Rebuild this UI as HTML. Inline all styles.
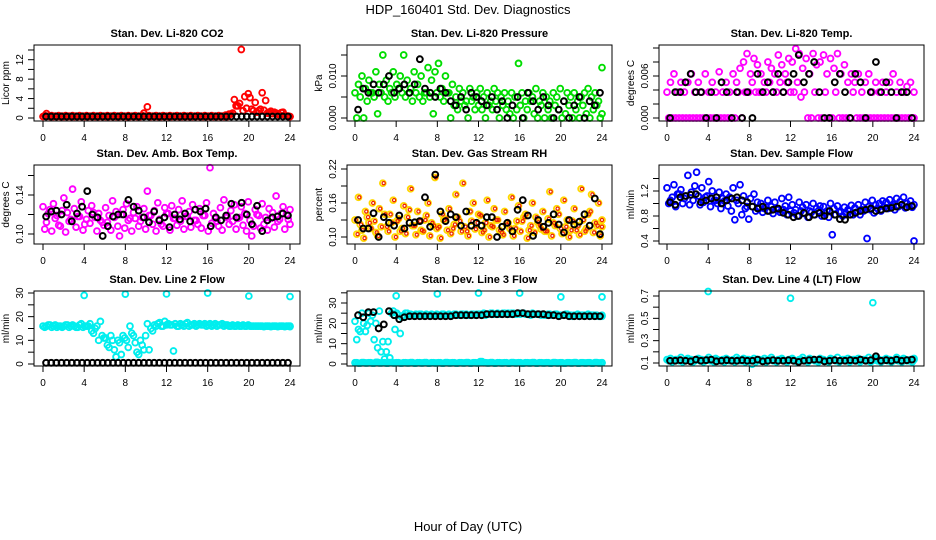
<!DOCTYPE html>
<html><head><meta charset="utf-8">
<style>
body{margin:0;background:#fff;}
svg{display:block;font-family:"Liberation Sans",sans-serif;}
</style></head>
<body>
<svg id="chart" width="936" height="540" viewBox="0 0 936 540" xmlns="http://www.w3.org/2000/svg">
<rect width="936" height="540" fill="#fff"/>
<text x="468" y="14" font-size="13" text-anchor="middle">HDP_160401  Std. Dev. Diagnostics</text>
<text x="468" y="531" font-size="13" text-anchor="middle">Hour of Day (UTC)</text>
<g id="panels"></g>
</svg>
<script>
// ---- data (hour-of-day series; colored = 20-min records, black = 30-min records) ----
const hourTicks = [0,4,8,12,16,20,24];

const co2A = [0.3,0.9,0.3,0.3,0.3,0.3,0.3,0.3,0.3, 0.3,0.3,0.3,0.3,0.3,0.3,0.3,0.3,0.3, 0.3,0.3,0.3,0.3,0.3,0.3,0.3,0.3,0.3, 0.3,0.3,1.0,2.3,0.3,0.3,0.3,0.3,0.3, 0.3,0.3,0.3,0.3,0.3,0.3,0.3,0.3,0.3, 0.3,0.3,0.3,0.3,0.3,0.3,0.3,0.3,0.3, 0.8,3.8,2.5,14.1,4.4,5.0,1.8,3.2,1.5, 5.2,3.6,1.2,0.9,1.0,0.6,1.2,0.4,0.3];
const co2B = [0.5,0.4,0.5,0.4,0.5,0.4,0.5,0.4,0.5, 0.4,0.5,0.4,0.5,0.4,0.5,0.4,0.5,0.4, 0.5,0.4,0.5,0.4,0.5,0.4,0.5,0.4,0.5, 0.4,0.5,0.4,0.5,0.4,0.5,0.4,0.5,0.4, 0.5,0.4,0.5,0.4,0.5,0.4,0.5,0.4,0.5, 0.4,0.5,0.4,0.5,0.4,0.5,0.4,0.6,0.8, 1.0,2.5,3.0,1.5,2.0,4.2,1.5,1.2,1.8, 1.6,1.0,1.4,1.2,0.8,1.1,0.6,0.4,0.3];
const co2K = [0.3,0.3,0.3,0.3,0.3,0.3,0.3,0.3,0.3,0.3,0.3,0.3,0.3,0.3,0.3,0.3,0.3,0.3,0.3,0.3,0.3,0.3,0.3,0.3,0.3,0.3,0.3,0.3,0.3,0.3,0.3,0.3,0.3,0.3,0.3,0.3,0.3,0.3,0.3,0.3,0.3,0.3,0.3,0.3,0.3,0.3,0.3,0.3];

const presA = [0.006,0.008,0.010,0.007,0.009,0.006,0.011,0.008,0.015, 0.009,0.007,0.011,0.008,0.010,0.015,0.009,0.007,0.011, 0.008,0.010,0.006,0.012,0.009,0.011,0.013,0.007,0.010, 0.006,0.008,0.005,0.007,0.006,0.004,0.007,0.005,0.006, 0.007,0.005,0.006,0.004,0.007,0.006,0.005,0.006,0.004, 0.006,0.005,0.013,0.006,0.004,0.006,0.005,0.007,0.004, 0.006,0.005,0.004,0.006,0.005,0.007,0.004,0.006,0.005, 0.006,0.004,0.005,0.006,0.007,0.005,0.006,0.004,0.012];
const presB = [0.000,0.005,0.000,0.004,0.006,0.005,0.001,0.006,0.005, 0.004,0.006,0.005,0.007,0.006,0.005,0.006,0.004,0.006, 0.005,0.004,0.006,0.005,0.001,0.006,0.005,0.004,0.006, 0.000,0.003,0.002,0.004,0.003,0.000,0.004,0.002,0.003, 0.002,0.000,0.003,0.002,0.004,0.000,0.003,0.002,0.001, 0.000,0.002,0.003,0.000,0.002,0.004,0.001,0.000,0.003, 0.000,0.002,0.000,0.003,0.002,0.000,0.001,0.003,0.000, 0.002,0.000,0.003,0.001,0.000,0.002,0.003,0.000,0.001];
const presK = [0.002,0.007,0.006,0.008,0.006,0.008,0.010,0.006,0.007,0.008,0.006,0.008,0.014,0.007,0.006,0.005,0.007,0.006,0.004,0.003,0.005,0.002,0.006,0.005,0.004,0.003,0.005,0.002,0.004,0.000,0.003,0.005,0.000,0.006,0.004,0.002,0.005,0.003,0.000,0.002,0.004,0.000,0.003,0.005,0.000,0.004,0.003,0.006];

const tempA = [0.0037,0.0051,0.0063,0.0037,0.0051,0.0037,0.0051,0.0063,0.0037, 0.0051,0.0037,0.0063,0.0037,0.0051,0.0037,0.0066,0.0037,0.0051, 0.0037,0.0063,0.0051,0.0071,0.0080,0.0092,0.0063,0.0085,0.0076, 0.0063,0.0051,0.0080,0.0071,0.0063,0.0090,0.0076,0.0063,0.0085, 0.0080,0.0099,0.0092,0.0071,0.0085,0.0063,0.0092,0.0076,0.0080, 0.0090,0.0063,0.0085,0.0071,0.0092,0.0063,0.0076,0.0051,0.0063, 0.0051,0.0063,0.0037,0.0051,0.0063,0.0037,0.0051,0.0037,0.0051, 0.0037,0.0051,0.0063,0.0037,0.0051,0.0037,0.0045,0.0051,0.0037];
const tempB = [0,0,0,0,0,0,0,0,0, 0,0,0,0,0,0,0,0,0, 0,0,0.0037,0,0.0037,0.0037,0.0051,0.0037,0.0037, 0.0037,0.0037,0.0051,0.0037,0.0037,0.0051,0.0037,0.0051,0.0037, 0.0037,0.0051,0.0030,0.0037,0,0,0.0037,0,0, 0.0037,0,0,0.0037,0,0,0,0,0.0037, 0,0,0,0,0,0,0,0,0, 0,0,0,0,0,0,0,0,0];
const tempK = [0,0.0037,0.0037,0.0051,0.0063,0.0037,0.0037,0,0.0037,0,0.0051,0.0037,0,0.0037,0,0.0037,0,0.0063,0.0037,0.0051,0.0037,0.0063,0.0037,0.0051,0.0063,0.0090,0.0051,0.0063,0.0080,0.0037,0,0,0.0051,0.0063,0.0037,0,0.0063,0.0051,0,0.0037,0.0080,0.0037,0.0051,0.0037,0,0.0037,0.0037,0];

const ambA = [.128,.112,.125,.131,.119,.108,.137,.122,.115, .126,.118,.133,.110,.124,.129,.117,.121,.112, .127,.119,.134,.123,.098,.125,.131,.116,.122, .128,.113,.126,.144,.119,.124,.132,.110,.127, .121,.129,.116,.125,.134,.118,.123,.130,.114, .126,.119,.132,.168,.121,.113,.127,.135,.118, .124,.130,.116,.128,.121,.133,.098,.125,.119, .131,.117,.126,.122,.139,.115,.128,.120,.125];
const ambB = [.105,.121,.103,.116,.109,.124,.102,.113,.146, .107,.118,.104,.115,.111,.122,.103,.114,.109, .112,.104,.117,.108,.120,.106,.114,.103,.116, .108,.117,.105,.119,.110,.103,.115,.108,.121, .104,.116,.109,.113,.105,.118,.107,.114,.110, .106,.119,.103,.111,.116,.108,.104,.117,.110, .113,.105,.117,.109,.103,.114,.108,.120,.106, .110,.104,.116,.107,.113,.121,.105,.115,.110];
const ambK = [.118,.123,.124,.120,.130,.113,.121,.128,.144,.120,.117,.098,.108,.118,.120,.120,.135,.128,.124,.117,.112,.123,.114,.117,.107,.120,.115,.121,.113,.125,.123,.126,.108,.117,.114,.119,.131,.117,.132,.120,.110,.129,.103,.114,.117,.118,.121,.119];

const rhA = [.130,.170,.112,.145,.125,.160,.108,.150,.195, .118,.140,.165,.128,.110,.155,.135,.185,.120, .145,.112,.130,.160,.125,.205,.118,.140,.132, .150,.115,.175,.128,.195,.110,.145,.160,.125, .138,.112,.165,.120,.150,.130,.108,.145,.125, .170,.115,.155,.128,.140,.112,.160,.135,.120, .145,.110,.180,.125,.150,.115,.165,.130,.112, .150,.120,.185,.110,.140,.175,.125,.160,.130];
const rhB = [.105,.122,.098,.135,.115,.128,.102,.118,.140, .110,.125,.100,.132,.115,.106,.148,.120,.104, .128,.110,.138,.102,.120,.115,.098,.130,.112, .106,.122,.135,.110,.118,.102,.128,.114,.140, .108,.125,.100,.118,.130,.112,.104,.122,.115, .102,.128,.110,.135,.098,.120,.108,.126,.114, .110,.132,.102,.120,.140,.106,.118,.100,.128, .112,.104,.130,.115,.145,.108,.120,.102,.118];
const rhK = [.130,.115,.115,.142,.100,.135,.125,.120,.138,.115,.125,.126,.128,.170,.118,.210,.145,.128,.140,.135,.120,.145,.120,.125,.120,.135,.135,.100,.118,.125,.110,.148,.165,.138,.102,.130,.118,.125,.140,.122,.108,.130,.122,.127,.140,.120,.168,.105];

const flowA = [1.25,1.05,1.30,1.15,1.22,1.08,1.45,1.18,1.28, 1.12,1.25,1.10,1.35,1.20,1.05,1.18,1.08,1.15, 1.10,1.25,1.05,1.30,1.12,0.95,1.08,1.15,1.02, 1.00,0.92,1.05,0.95,1.02,0.90,1.08,0.96,1.10, 0.98,0.90,1.02,0.94,0.98,0.88,1.00,0.92,0.96, 0.95,0.88,1.00,0.92,0.96,0.87,0.94,0.90,0.97, 0.93,0.98,0.90,1.02,0.95,1.05,0.98,1.00,1.04, 1.02,1.06,0.98,1.08,1.03,1.10,1.00,1.04,0.98];
const flowB = [1.00,1.10,0.95,1.15,1.00,1.12,0.98,1.05,1.50, 0.98,1.02,1.12,0.95,1.05,1.00,0.92,1.04,0.96, 0.88,0.74,1.00,0.82,0.92,0.75,0.95,0.88,0.92, 0.86,0.94,0.88,0.84,0.92,0.86,0.90,0.82,0.88, 0.85,0.80,0.88,0.84,0.78,0.86,0.82,0.88,0.80, 0.84,0.78,0.50,0.82,0.86,0.80,0.84,0.88,0.82, 0.86,0.82,0.88,0.44,0.90,0.85,0.92,0.88,0.94, 0.92,0.96,0.90,0.95,0.98,0.93,0.96,0.94,0.40];
const flowK = [1.02,0.98,1.10,1.12,1.14,1.15,1.02,1.05,1.08,1.10,1.00,1.05,1.08,1.10,1.05,1.02,0.95,0.92,0.95,0.88,0.90,0.92,0.85,0.82,0.78,0.80,0.85,0.78,0.82,0.85,0.80,0.88,0.82,0.75,0.74,0.82,0.85,0.88,0.90,0.92,0.88,0.90,0.92,0.93,0.95,0.98,0.94,0.96];

const l2A = [16,16,16.5,16,15.5,16,16,16.5,16, 16,15.5,17,16,16,14,15,10,12, 11,7,10,3,9,12,10,16,12, 5,10,6,17,15,16.5,17,16,18, 17,16.5,17,16,16.5,17,16,16.5,16, 17,16.5,16,17,16.5,16,16.5,16,16.5, 16,16,16.5,16,16,16.5,16,16,16, 16,16,16,16,16,16,16,16,16];
const l2B = [15.5,16.5,15.5,16.5,16,15.5,16.5,15.5,16.5, 15.5,16.5,15.5,16,17,13,16,18,11, 8,12,6,10,4,11,7,13,9, 4,8,12,6,14,16,17.5,16,16.5, 16.5,5.5,16,17,16,17.5,16.5,17,16.5, 16.5,17,16.5,16,17,16.5,17,16.5,16, 16.5,16,16,16.5,16,16,16,16,16, 15.8,16,15.8,16,15.8,16,15.8,16,15.8];
const l2K = [0.5,0.5,0.5,0.5,0.5,0.5,0.5,0.5,0.5,0.5,0.5,0.5,0.5,0.5,0.5,0.5,0.5,0.5,0.5,0.5,0.5,0.5,0.5,0.5,0.5,0.5,0.5,0.5,0.5,0.5,0.5,0.5,0.5,0.5,0.5,0.5,0.5,0.5,0.5,0.5,0.5,0.5,0.5,0.5,0.5,0.5,0.5,0.5];
const outHours = [4,8,12,16,20,24];
const l2Out = [29,29.5,29.6,30,28.7,28.5];

const l3A = [21,17,25,16,25,24,20,26,11, 6,3,26,25,15,24,25,24.5,24, 24,24.5,24,24,24.5,24,24,24.5,24, 24.5,24,24.5,24,24.5,24.5,24,24.5,24.5, 24.5,25,24.5,25,24.5,25,24.5,25,25, 25,24.5,25,25,24.5,24.5,25,24.5,24.5, 24.5,24,24.5,24,24.5,24,24,24.5,24, 24,24.5,24,24,24.5,24,24,23.5,24];
const l3B = [12,16,20,19,21,12,8,6,2.5, 11,25,17,24,23,25,24,24,24.5, 24.5,24,24.5,24,24,24.5,24,24.5,24, 24,24.5,24,24.5,24,24,24.5,24,24.5, 24.5,24,24.5,25,24.5,24.5,25,24.5,24.5, 25,24.5,24.5,25,24.5,24,24.5,24.5,24, 24,24.5,24,24.5,24,24,24.5,24,23.5, 24,23.5,24,24,23.5,24,24,23.5,23.5];
const l3Zero = [0.6,0.4,0.7,0.5,0.6,0.4,0.8,0.5,0.6, 0.4,0.7,0.5,0.6,0.4,0.6,0.5,0.7,0.4, 0.6,0.5,0.7,0.4,0.6,0.5,0.6,0.4,0.7, 0.5,0.6,0.4,0.6,0.5,0.7,0.4,0.6,0.5, 1.2,0.6,0.5,0.7,0.4,0.6,0.5,0.6,0.4, 0.7,0.5,0.6,0.4,0.6,0.5,0.7,0.4,0.6, 0.5,0.6,0.4,0.7,0.5,0.6,0.4,0.6,0.5, 0.7,0.4,0.6,0.5,0.6,0.4,0.7,0.5,0.6];
const l3K = [24,23,25.5,25.5,17.5,19.5,26,24,22,23,23.5,23.5,23.5,23.5,23.5,23.5,23.5,23.5,23.5,24,24,24,24,24,24,24.5,24.5,24.5,24.5,24.5,24.5,25,25,24.5,24.5,24.5,24.5,24,24,23.5,24,23.5,23.5,23.5,23.5,23.5,23.5,23.5];
const l3Out = [33.5,34.5,34.9,34.9,33,33];

const l4A = [.13,.14,.12,.13,.15,.12,.14,.13,.12, .14,.13,.12,.15,.13,.14,.12,.13,.14, .12,.13,.15,.12,.14,.13,.12,.14,.13, .12,.14,.13,.15,.12,.13,.14,.12,.13, .14,.12,.13,.15,.12,.14,.13,.12,.14, .13,.12,.14,.13,.15,.12,.13,.14,.12, .13,.14,.12,.13,.15,.12,.14,.13,.12, .14,.13,.12,.15,.13,.14,.12,.13,.14];
const l4B = [.12,.11,.13,.12,.11,.13,.12,.11,.13, .12,.11,.13,.12,.11,.13,.12,.11,.13, .12,.11,.13,.12,.11,.13,.09,.11,.13, .12,.11,.13,.12,.11,.13,.12,.11,.13, .12,.11,.13,.12,.11,.13,.12,.11,.13, .12,.11,.13,.12,.11,.13,.12,.11,.13, .12,.11,.13,.12,.11,.13,.12,.11,.13, .12,.11,.13,.12,.11,.13,.12,.11,.13];
const l4K = [.12,.12,.125,.12,.115,.13,.12,.125,.13,.115,.12,.125,.12,.12,.125,.12,.12,.13,.115,.12,.125,.12,.12,.125,.12,.11,.12,.125,.13,.13,.115,.12,.125,.12,.12,.125,.12,.13,.12,.125,.16,.12,.125,.12,.13,.12,.125,.13];
const l4Out = [0.74,null,0.68,null,0.64,null];

// ---- layout ----
const cols=[{L:34,R:300,x0:43,x1:290},{L:347,R:612,x0:355,x1:602},{L:659,R:924,x0:667,x1:914}];
const rows=[{T:45,B:121},{T:165,B:244},{T:291,B:366}];
const NS="http://www.w3.org/2000/svg";
const root=document.getElementById('panels');
function mk(tag,attrs,parent){const e=document.createElementNS(NS,tag);for(const k in attrs)e.setAttribute(k,attrs[k]);(parent||root).appendChild(e);return e;}

const panels=[
 {title:"Stan. Dev. Li-820 CO2",yl:"Licor ppm",r:0,c:0,v:[0,12],y:[118,59.7],ticks:[0,2,4,6,8,10,12,14],labs:[0,4,8,12],fmt:v=>String(v),
  series:[[co2A,'#ff0000',0],[co2B,'#ff0000',0.17]],black:co2K},
 {title:"Stan. Dev. Li-820 Pressure",yl:"kPa",r:0,c:1,v:[0,0.010],y:[118,76],ticks:[0,0.005,0.010,0.015],labs:[0,0.010],fmt:v=>v.toFixed(3),
  series:[[presA,'#00dd00',0],[presB,'#00dd00',0.17]],black:presK},
 {title:"Stan. Dev. Li-820 Temp.",yl:"degrees C",r:0,c:2,v:[0,0.006],y:[118,76],ticks:[0,0.002,0.004,0.006,0.008,0.010],labs:[0,0.006],fmt:v=>v.toFixed(3),
  series:[[tempA,'#ff00ff',0],[tempB,'#ff00ff',0.17]],black:tempK},
 {title:"Stan. Dev. Amb. Box Temp.",yl:"degrees C",r:1,c:0,v:[0.10,0.14],y:[234,195],ticks:[0.10,0.12,0.14,0.16],labs:[0.10,0.14],fmt:v=>v.toFixed(2),
  series:[[ambA,'#ff00ff',0],[ambB,'#ff00ff',0.17]],black:ambK},
 {title:"Stan. Dev. Gas Stream RH",yl:"percent",r:1,c:1,v:[0.10,0.22],y:[237,169],ticks:[0.10,0.13,0.16,0.19,0.22],labs:[0.10,0.16,0.22],fmt:v=>v.toFixed(2),
  series:[[rhA,'#ffd700',0],[rhB,'#ffd700',0.17],[rhA,'#ee2200',0.08,1],[rhB,'#ee2200',0.25,1]],black:rhK},
 {title:"Stan. Dev. Sample Flow",yl:"ml/min",r:1,c:2,v:[0.4,1.2],y:[241,191],ticks:[0.4,0.6,0.8,1.0,1.2,1.4],labs:[0.4,0.8,1.2],fmt:v=>v.toFixed(1),
  series:[[flowA,'#0000ff',0],[flowB,'#0000ff',0.17]],black:flowK},
 {title:"Stan. Dev. Line 2 Flow",yl:"ml/min",r:2,c:0,v:[0,30],y:[364,293],ticks:[0,5,10,15,20,25,30],labs:[0,10,20,30],fmt:v=>String(v),
  series:[[l2A,'#00eeee',0],[l2B,'#00eeee',0.17]],black:l2K,out:l2Out},
 {title:"Stan. Dev. Line 3 Flow",yl:"ml/min",r:2,c:1,v:[0,30],y:[364,303],ticks:[0,5,10,15,20,25,30,35],labs:[0,10,20,30],fmt:v=>String(v),
  series:[[l3Zero,'#00eeee',0],[l3Zero,'#00eeee',0.17],[l3A,'#00eeee',0],[l3B,'#00eeee',0.17]],black:l3K,out:l3Out},
 {title:"Stan. Dev. Line 4 (LT) Flow",yl:"ml/min",r:2,c:2,v:[0.1,0.7],y:[363,296],ticks:[0.1,0.2,0.3,0.4,0.5,0.6,0.7],labs:[0.1,0.3,0.5,0.7],fmt:v=>v.toFixed(1),
  series:[[l4A,'#00eeee',0],[l4B,'#00eeee',0.17]],black:l4K,out:l4Out}
];

panels.forEach((p,pi)=>{
  const C=cols[p.c],R=rows[p.r];
  const xs=h=>C.x0+(C.x1-C.x0)*h/24;
  const ys=v=>p.y[0]+(v-p.v[0])*(p.y[1]-p.y[0])/(p.v[1]-p.v[0]);
  const g=mk('g',{});
  
  
  const t=mk('text',{x:(C.L+C.R)/2,y:R.T-8,'font-size':11,'font-weight':'bold','text-anchor':'middle'},g);
  t.textContent=p.title;
  
  
  hourTicks.forEach(h=>{
    const tk=mk('line',{x1:xs(h),x2:xs(h),y1:R.B,y2:R.B+6,stroke:'#000','stroke-width':1},g);
    
    
    const tl=mk('text',{x:xs(h),y:R.B+20,'font-size':10,'text-anchor':'middle'},g);
    tl.textContent=h;
    
    
  });
  p.ticks.forEach(v=>{
    const y=ys(v); if(y<R.T-1||y>R.B+1) return;
    const tk=mk('line',{x1:C.L-6,x2:C.L,y1:y,y2:y,stroke:'#000','stroke-width':1},g);
    
    
  });
  p.labs.forEach(v=>{
    const y=ys(v); const x=C.L-11;
    const tl=mk('text',{x:x,y:y,'font-size':10,'text-anchor':'middle',transform:`rotate(-90 ${x} ${y})`},g);
    tl.textContent=p.fmt(v);
    
    
  });
  const yx=C.L-25,yy=(R.T+R.B)/2;
  const yt=mk('text',{x:yx,y:yy,'font-size':10,'text-anchor':'middle',transform:`rotate(-90 ${yx} ${yy})`},g);
  yt.textContent=p.yl;
  
  
  p.series.forEach(s=>{
    const arr=s[0],col=s[1],off=s[2],dot=s[3];
    const n=arr.length;
    arr.forEach((v,i)=>{
      if(v==null) return;
      const h=Math.min(24,i*24/(n-1)+off);
      const c=mk('circle',{cx:xs(h),cy:ys(v),r:dot?1.6:2.9,fill:'none',stroke:col,'stroke-width':dot?1.2:1.9},g);
      
      
    });
  });
  if(p.out){
    p.out.forEach((v,i)=>{
      if(v==null) return;
      const c=mk('circle',{cx:xs(outHours[i]),cy:ys(v),r:2.9,fill:'none',stroke:'#00eeee','stroke-width':1.9},g);
      
      
    });
  }
  const kn=p.black.length;
  p.black.forEach((v,i)=>{
    const h=0.3+i*23.5/(kn-1);
    const c=mk('circle',{cx:xs(h),cy:ys(v),r:2.9,fill:'none',stroke:'#000','stroke-width':2},g);
    
    
  });
  const box=mk('rect',{x:C.L,y:R.T,width:C.R-C.L,height:R.B-R.T,fill:'none',stroke:'#000','stroke-width':1},g);
  
  
});
</script>
</body></html>
